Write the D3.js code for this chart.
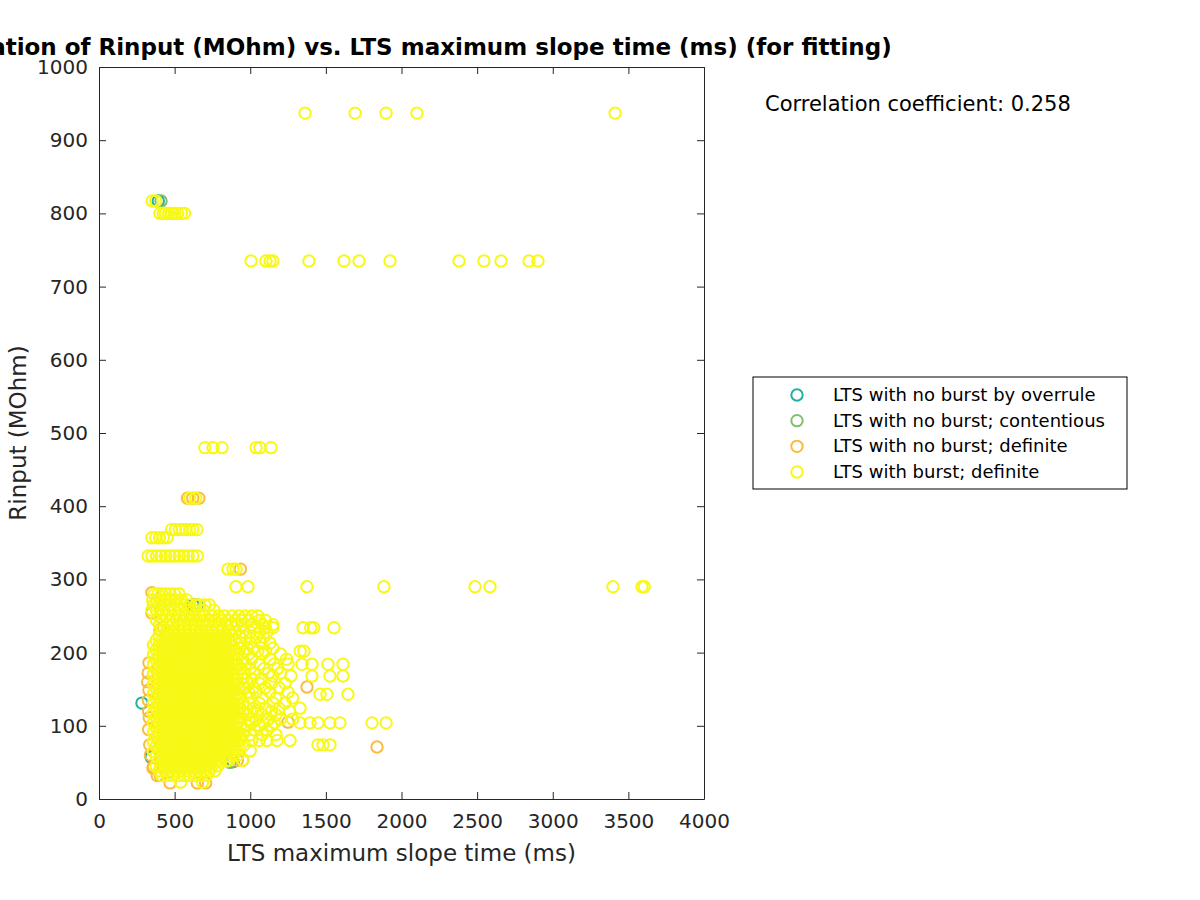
<!DOCTYPE html>
<html>
<head>
<meta charset="utf-8">
<script src="https://cdn.jsdelivr.net/npm/d3@7"></script>
<style>
body{margin:0;background:#fff;font-family:"DejaVu Sans",sans-serif}
</style>
</head>
<body>
<script>
// series labels, in plotting order (yellow last so it sits on top)
var categories=["LTS with no burst by overrule","LTS with no burst; contentious","LTS with no burst; definite","LTS with burst; definite"]
var colors=["#22b19d","#85bd6b","#fbbc3e","#f8f816"]
var xTicks=[0,500,1000,1500,2000,2500,3000,3500,4000]
var yTicks=[0,100,200,300,400,500,600,700,800,900,1000]
var corrText="Correlation coefficient: 0.258"

// each row: [Rinput (MOhm), [LTS max slope times (ms)]]
var overruleRows=[[131,[284]],[817,[392]],[265,[622]],[51,[886]],[57,[345]],[145,[420]],[90,[500]]]
var contentiousRows=[[817,[410]],[265,[648]],[50,[866]],[120,[600]],[200,[450]]]
var noBurstRows=[[411,[585,620,660]],[314,[935]],[282,[350]],[254,[350]],[234,[425]],[231,[403]],
  [186,[330]],[172,[325]],[160,[322]],[149,[330]],[135,[326]],[120,[328]],[111,[332]],[95,[328]],
  [74,[335]],[60,[340]],[53,[915,950]],[44,[360,420]],[42,[357]],[32,[385,405]],[22,[470,650,705]],
  [153,[1375]],[105,[1250]],[71,[1838]]]
var burstRows=[
  [937,[1362,1693,1898,2102,3412]],
  [817,[352,375]],
  [800,[403,425,440,460,480,500,520,545,565]],
  [735,[1005,1104,1131,1150,1388,1620,1719,1924,2380,2545,2658,2843,2902]],
  [480,[700,754,813,1038,1064,1137]],
  [411,[600,640]],
  [368,[480,505,530,550,575,600,620,648]],
  [357,[350,375,400,425,450]],
  [332,[325,350,380,410,440,470,500,530,560,590,620,650]],
  [314,[853,886,906]],
  [290,[905,985,1375,1884,2486,2585,3398,3590,3605]],
  [280,[365,390,415,440,470,500,530]],
  [272,[355,380,410,440,475,510,545,580]],
  [265,[360,395,430,470,520,560,600,640,665,700,730]],
  [258,[350,380,420,455,500,545,590,625,690,760]],
  [250,[400,440,485,530,575,615,665,700,745,790,830,880,925,965,1010,1050]],
  [244,[380,420,470,515,560,610,650,690,730,770,810,850,900,940,990,1060,1100]],
  [238,[400,445,480,525,560,600,640,685,720,760,800,845,870,910,950,1010,1080,1150]],
  [234,[1030,1100,1150,1349,1400,1420,1554]],
  // dense core
  [230,[415,452,489,526,563,600,637,674,711,748,785,822,859]],
  [223.4,[397,434,471,508,545,582,619,656,693,730,767,804,841,878]],
  [216.8,[378,415,452,489,526,563,600,637,674,711,748,785,822,859,896]],
  [210.2,[360,397,434,471,508,545,582,619,656,693,730,767,804,841,878]],
  [203.6,[378,415,452,489,526,563,600,637,674,711,748,785,822,859,896]],
  [197,[360,397,434,471,508,545,582,619,656,693,730,767,804,841,878,915]],
  [190.4,[378,415,452,489,526,563,600,637,674,711,748,785,822,859,896]],
  [183.8,[360,397,434,471,508,545,582,619,656,693,730,767,804,841,878,915]],
  [177.2,[378,415,452,489,526,563,600,637,674,711,748,785,822,859,896]],
  [170.6,[360,397,434,471,508,545,582,619,656,693,730,767,804,841,878,915]],
  [164,[378,415,452,489,526,563,600,637,674,711,748,785,822,859,896]],
  [157.4,[360,397,434,471,508,545,582,619,656,693,730,767,804,841,878,915]],
  [150.8,[378,415,452,489,526,563,600,637,674,711,748,785,822,859,896,933]],
  [144.2,[360,397,434,471,508,545,582,619,656,693,730,767,804,841,878,915]],
  [137.6,[378,415,452,489,526,563,600,637,674,711,748,785,822,859,896,933]],
  [131,[360,397,434,471,508,545,582,619,656,693,730,767,804,841,878,915,952]],
  [124.4,[378,415,452,489,526,563,600,637,674,711,748,785,822,859,896,933]],
  [117.8,[360,397,434,471,508,545,582,619,656,693,730,767,804,841,878,915,952]],
  [111.2,[378,415,452,489,526,563,600,637,674,711,748,785,822,859,896,933]],
  [104.6,[360,397,434,471,508,545,582,619,656,693,730,767,804,841,878,915]],
  [98,[378,415,452,489,526,563,600,637,674,711,748,785,822,859,896,933]],
  [91.4,[360,397,434,471,508,545,582,619,656,693,730,767,804,841,878,915]],
  [84.8,[378,415,452,489,526,563,600,637,674,711,748,785,822,859,896,933]],
  [78.2,[360,397,434,471,508,545,582,619,656,693,730,767,804,841,878,915]],
  [71.6,[378,415,452,489,526,563,600,637,674,711,748,785,822,859,896]],
  [65,[360,397,434,471,508,545,582,619,656,693,730,767,804,841,878]],
  [58.4,[378,415,452,489,526,563,600,637,674,711,748,785,822,859]],
  [51.8,[397,434,471,508,545,582,619,656,693,730,767,804,841]],
  [45.2,[378,415,452,489,526,563,600,637,674,711,748,785]],
  [38.6,[397,434,471,508,545,582,619,656,693,730,767]],
  [32,[415,452,489,526,563,600,637,674,711]],
  // loose points right of the core
  [228,[900,950,1000,1060,1110]],
  [221,[930,970,1040,1090]],
  [213,[940,1000,1070,1130]],
  [206,[930,980,1020,1150]],
  [202,[960,1050,1100,1330,1355]],
  [198,[990,1080,1200]],
  [191,[950,1010,1130,1240]],
  [184,[970,1060,1157,1250,1342,1408,1514,1613]],
  [178,[940,1000,1090,1180]],
  [172,[960,1030,1120,1200]],
  [168,[1150,1269,1408,1527,1613]],
  [164,[950,1010,1070]],
  [158,[980,1060,1140,1230]],
  [152,[960,1020,1100,1190]],
  [146,[990,1040,1130,1250]],
  [143,[1461,1507,1646]],
  [138,[1000,1080,1170,1280]],
  [131,[990,1060,1150,1230]],
  [124,[1020,1100,1190,1329]],
  [120,[1000,1050,1140,1260]],
  [115,[980,1080,1170]],
  [109,[990,1040,1120,1200,1280]],
  [104,[1010,1090,1160,1329,1395,1448,1527,1593,1805,1898]],
  [100,[980,1060,1140]],
  [94,[960,1030,1110]],
  [88,[950,1000,1080,1170]],
  [80,[930,1010,1060,1110,1177,1263]],
  [74,[920,960,1448,1481,1527]],
  [66,[900,1000]],
  [60,[890,920]],
  [53,[860,950]],
  [23,[540,685]]
]
var seriesRows=[overruleRows,contentiousRows,noBurstRows,burstRows]

var flatten=function(rows){
  var pts=[]
  rows.forEach(function(r){r[1].forEach(function(x){pts.push({x:x,y:r[0]})})})
  return pts
}

var screen={width:1200,height:900}
var plot={left:99,right:704,top:67,bottom:799}
var xScale=d3.scaleLinear().domain([0,4000]).range([plot.left,plot.right])
var yScale=d3.scaleLinear().domain([0,1000]).range([plot.bottom,plot.top])
var radius=5.7

var svg=d3.select("body").append("svg").attr("width",screen.width).attr("height",screen.height)

var markers=svg.append("g")
seriesRows.forEach(function(rows,i){
  markers.append("g").selectAll("circle")
    .data(flatten(rows))
    .enter()
    .append("circle")
    .attr("cx",function(d){return xScale(d.x)})
    .attr("cy",function(d){return yScale(d.y)})
    .attr("r",radius)
    .style("fill","none")
    .style("stroke",colors[i])
    .style("stroke-width",2)
})

// axes, ticks pointing inward, box on all four sides
var axisColor="#262626"
var fmt=d3.format("d")
var xAxis=d3.axisBottom(xScale).tickValues(xTicks).tickFormat(fmt).tickSizeInner(-7).tickSizeOuter(0).tickPadding(15)
var yAxis=d3.axisLeft(yScale).tickValues(yTicks).tickFormat(fmt).tickSizeInner(-7).tickSizeOuter(0).tickPadding(11)
var gx=svg.append("g").attr("transform","translate(0,"+plot.bottom+")").call(xAxis)
var gy=svg.append("g").attr("transform","translate("+plot.left+",0)").call(yAxis)
var gxTop=svg.append("g").attr("transform","translate(0,"+plot.top+")")
  .call(d3.axisTop(xScale).tickValues(xTicks).tickSizeInner(-7).tickSizeOuter(0).tickFormat(""))
var gyRight=svg.append("g").attr("transform","translate("+plot.right+",0)")
  .call(d3.axisRight(yScale).tickValues(yTicks).tickSizeInner(-7).tickSizeOuter(0).tickFormat(""))
;[gx,gy,gxTop,gyRight].forEach(function(g){
  g.selectAll("path,line").attr("stroke",axisColor).attr("stroke-width",1)
  g.selectAll("text").attr("fill",axisColor).style("font-family","DejaVu Sans").style("font-size","20px")
})

svg.append("text")
   .text("LTS maximum slope time (ms)")
   .attr("x",(plot.left+plot.right)/2).attr("y",861)
   .attr("text-anchor","middle").attr("fill",axisColor)
   .style("font-size","23px")
svg.append("text")
   .text("Rinput (MOhm)")
   .attr("transform","translate(26,"+((plot.top+plot.bottom)/2)+") rotate(-90)")
   .attr("text-anchor","middle").attr("fill",axisColor)
   .style("font-size","23px")
svg.append("text")
   .text("Correlation of Rinput (MOhm) vs. LTS maximum slope time (ms) (for fitting)")
   .attr("x",(plot.left+plot.right)/2).attr("y",55)
   .attr("text-anchor","middle").attr("fill","#000")
   .style("font-size","23px").style("font-weight","bold")
svg.append("text")
   .text(corrText)
   .attr("x",765).attr("y",111)
   .attr("fill","#000")
   .style("font-size","21px")

// legend
var legend=svg.append("g")
legend.append("rect").attr("x",753).attr("y",377).attr("width",374).attr("height",112)
  .attr("fill","#fff").attr("stroke","#000").attr("stroke-width",1)
var legendY=d3.scaleLinear().domain([0,3]).range([395,472])
legend.selectAll("circle").data(categories).enter().append("circle")
  .attr("cx",797).attr("cy",function(d,i){return legendY(i)}).attr("r",radius)
  .style("fill","none").style("stroke",function(d,i){return colors[i]}).style("stroke-width",2)
legend.selectAll("text").data(categories).enter().append("text")
  .attr("x",833).attr("y",function(d,i){return legendY(i)+6})
  .text(function(d){return d})
  .attr("fill","#000").style("font-size","18px")
</script>
</body>
</html>
